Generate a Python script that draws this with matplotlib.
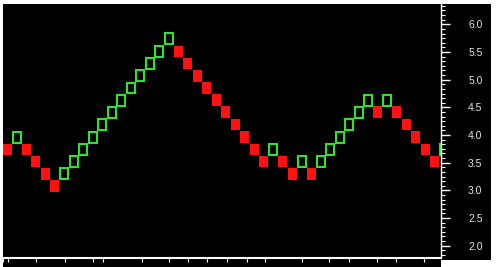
import matplotlib
matplotlib.use("Agg")
import matplotlib.pyplot as plt
from matplotlib.patches import Rectangle
from matplotlib.ticker import FixedLocator, MultipleLocator

# renko bricks, one per column (centre price of each brick)
box_size = 0.221
brick_prices = [3.74, 3.96, 3.74, 3.52, 3.30, 3.08, 3.30, 3.52, 3.74, 3.96,
                4.19, 4.41, 4.63, 4.85, 5.07, 5.29, 5.51, 5.74, 5.51, 5.29,
                5.07, 4.85, 4.63, 4.41, 4.19, 3.96, 3.74, 3.52, 3.74, 3.52,
                3.30, 3.52, 3.30, 3.52, 3.74, 3.96, 4.19, 4.41, 4.63, 4.41,
                4.63, 4.41, 4.19, 3.96, 3.74, 3.52, 3.74]
first_dir = "down"
date_ticks = [-0.4, 0.1, 3, 6.1, 9, 10.1, 14.2, 17, 19, 21, 23.1, 25.2, 27.1,
              31, 33.9, 36, 38.9, 40.9, 43.9]
price_ticks = [2.0, 2.5, 3.0, 3.5, 4.0, 4.5, 5.0, 5.5, 6.0]

up_color = "#2fe22a"
down_color = "#ff1111"

plt.rcParams["font.family"] = ["Liberation Sans", "DejaVu Sans"]

W, H = 496, 267
fig = plt.figure(figsize=(W / 100, H / 100), dpi=100, facecolor="white")

# black panel behind plot + price scale
fig.patches.append(Rectangle((3 / W, 1 - 260 / H), 488 / W, 256 / H,
                             transform=fig.transFigure, facecolor="black",
                             edgecolor="none", zorder=-2))
fig.patches.append(Rectangle((3 / W, 0), 438 / W, 8 / H,
                             transform=fig.transFigure, facecolor="black",
                             edgecolor="none", zorder=-2))

ax = fig.add_axes([3 / W, 1 - 258 / H, 438 / W, 254 / H])
ax.set_facecolor("black")

prev = None
for i, p in enumerate(brick_prices):
    if prev is None:
        up = first_dir == "up"
    else:
        up = p > prev
    prev = p
    w = 0.92
    h = box_size * 0.96
    if up:
        r = Rectangle((i - w / 2 + 0.05, p - h / 2 + 0.008), w - 0.1, h - 0.016,
                      facecolor="none", edgecolor=up_color, lw=1.5)
    else:
        r = Rectangle((i - w / 2, p - h / 2), w, h,
                      facecolor=down_color, edgecolor="none")
    ax.add_patch(r)

ax.set_xlim(-0.45, 45.65)
ax.set_ylim(1.778, 6.367)

# price scale on the right
ax.yaxis.tick_right()
ax.yaxis.set_major_locator(FixedLocator(price_ticks))
ax.yaxis.set_minor_locator(MultipleLocator(0.5 / 6))
ax.set_yticklabels(["%.1f" % v for v in price_ticks])
ax.tick_params(axis="y", which="major", length=6.5, width=1, color="white",
               labelcolor="#e6e6e6", labelsize=7.5, pad=13)
ax.tick_params(axis="y", which="minor", length=3, width=0.8, color="white")

ax.xaxis.set_major_locator(FixedLocator(date_ticks))
ax.tick_params(axis="x", which="major", length=3, width=0.8, color="white",
               labelbottom=False)

for s in ["left", "top"]:
    ax.spines[s].set_visible(False)
ax.spines["right"].set_color("white")
ax.spines["right"].set_linewidth(1)
ax.spines["bottom"].set_color("white")
ax.spines["bottom"].set_linewidth(1.5)

fig.savefig("out.png", dpi=100, facecolor=fig.get_facecolor())
